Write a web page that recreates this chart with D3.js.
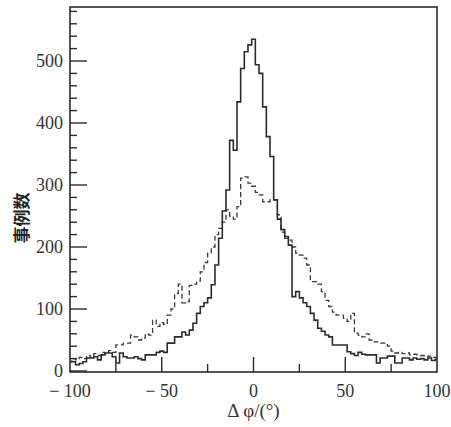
<!DOCTYPE html>
<html>
<head>
<meta charset="utf-8">
<script src="https://cdn.jsdelivr.net/npm/d3@7"></script>
<style>
  body { margin: 0; background: #fff; }
  .tick-label { font-family: "Liberation Serif", "DejaVu Serif", serif; font-size: 18px; fill: #333; }
</style>
</head>
<body>
<div id="histo"></div>
<script>

// bin centres in degrees, 2 deg wide bins
let binCenters = d3.range(-100, 101, 2);

// solid histogram (narrow peak)
let solidCounts = [
  15, 15, 10, 12, 15, 21, 21, 23, 18, 26,     // -100 .. -82
  29, 29, 23, 13, 29, 23, 21, 21, 23, 20,     // -80 .. -62
  18, 26, 26, 26, 30, 32, 30, 45, 45, 55,     // -60 .. -42
  55, 63, 58, 66, 77, 93, 104, 110, 118, 139, // -40 .. -22
  171, 214, 258, 292, 372, 356, 434, 488, 515, 526, // -20 .. -2
  535,                                        // 0
  494, 480, 426, 378, 346, 276, 245, 228, 217, 203, // 2 .. 20
  120, 128, 118, 110, 104, 93, 82, 69, 64, 58, // 22 .. 40
  55, 42, 42, 42, 42, 31, 28, 25, 30, 27,     // 42 .. 60
  26, 26, 26, 13, 21, 21, 24, 24, 13, 13,     // 62 .. 80
  21, 21, 18, 21, 19, 20, 18, 21, 17, 19      // 82 .. 100
];

// dashed histogram (broad peak)
let dashedCounts = [
  15, 20, 18, 22, 20, 25, 22, 28, 25, 30,     // -100 .. -82
  28, 33, 30, 42, 42, 45, 45, 58, 55, 50,     // -80 .. -62
  53, 60, 58, 82, 72, 78, 75, 90, 100, 125,   // -60 .. -42
  140, 110, 112, 138, 140, 145, 160, 175, 190, 200, // -40 .. -22
  220, 230, 240, 260, 250, 245, 265, 311, 313, 303, // -20 .. -2
  298,                                        // 0
  288, 284, 273, 273, 276, 276, 252, 224, 214, 211, // 2 .. 20
  200, 190, 187, 182, 171, 144, 144, 140, 128, 114, // 22 .. 40
  104, 95, 90, 90, 85, 80, 93, 61, 58, 55,    // 42 .. 60
  60, 50, 47, 47, 45, 45, 40, 32, 29, 30,     // 62 .. 80
  28, 29, 26, 27, 26, 25, 23, 24, 22, 22      // 82 .. 100
];

// axis ticks
let xMajorTicks = [-100, -50, 0, 50, 100];
let xMinorTicks = [-75, -25, 25, 75];
let xTickLabels = ["\u2212 100", "\u2212 50", "0", "50", "100"];
let yMajorTicks = [0, 100, 200, 300, 400, 500];
let yMinorTicks = d3.range(20, 590, 20).filter(d => d % 100 != 0);

let W = 451, H = 427;
let frame = {left: 70, right: 437, top: 7, bottom: 372};

let svg = d3.select("#histo")
    .append("svg")
    .attr("width", W)
    .attr("height", H);

// SCALES //
let x = d3.scaleLinear()
    .domain([-100, 100])
    .range([frame.left, frame.right]);

let y = d3.scaleLinear()
    .domain([0, 500])
    .range([371, 61]);

// clip so the edge bins stop at the frame
svg.append("clipPath")
    .attr("id", "plotclip")
    .append("rect")
    .attr("x", frame.left)
    .attr("y", frame.top)
    .attr("width", frame.right - frame.left)
    .attr("height", frame.bottom - frame.top);

// HISTOGRAMS //

// step outline through every bin
function stepPath(counts) {
    let p = d3.path();
    binCenters.forEach(function(c, i) {
        let x0 = x(c - 1), x1 = x(c + 1), yy = y(counts[i]);
        if (i == 0) p.moveTo(x0, yy); else p.lineTo(x0, yy);
        p.lineTo(x1, yy);
    });
    return p.toString();
}

svg.append("path")
    .attr("d", stepPath(dashedCounts))
    .attr("clip-path", "url(#plotclip)")
    .style("fill", "none")
    .style("stroke", "#3a3a3a")
    .style("stroke-width", 1.3)
    .style("stroke-dasharray", "5,3");

svg.append("path")
    .attr("d", stepPath(solidCounts))
    .attr("clip-path", "url(#plotclip)")
    .style("fill", "none")
    .style("stroke", "#2b2b2b")
    .style("stroke-width", 1.6);

// FRAME + TICKS //

svg.append("rect")
    .attr("x", frame.left)
    .attr("y", frame.top)
    .attr("width", frame.right - frame.left)
    .attr("height", frame.bottom - frame.top)
    .style("fill", "none")
    .style("stroke", "#2b2b2b")
    .style("stroke-width", 1.6);

// y ticks point into the plot
svg.append("g").selectAll("line")
    .data(yMajorTicks.map(d => [d, 17]).concat(yMinorTicks.map(d => [d, 7])))
    .enter()
    .append("line")
    .attr("x1", frame.left)
    .attr("x2", d => frame.left + d[1])
    .attr("y1", d => y(d[0]))
    .attr("y2", d => y(d[0]))
    .style("stroke", "#2b2b2b")
    .style("stroke-width", 1.4);

svg.append("g").selectAll("text")
    .data(yMajorTicks)
    .enter()
    .append("text")
    .attr("class", "tick-label")
    .attr("x", 63)
    .attr("y", d => y(d) + 6)
    .attr("text-anchor", "end")
    .text(d => d);

// x ticks point up
svg.append("g").selectAll("line")
    .data(xMajorTicks.slice(1, -1).map(d => [d, 15]).concat(xMinorTicks.map(d => [d, 8])))
    .enter()
    .append("line")
    .attr("x1", d => x(d[0]))
    .attr("x2", d => x(d[0]))
    .attr("y1", frame.bottom)
    .attr("y2", d => frame.bottom - d[1])
    .style("stroke", "#2b2b2b")
    .style("stroke-width", 1.4);

svg.append("g").selectAll("text")
    .data(xMajorTicks)
    .enter()
    .append("text")
    .attr("class", "tick-label")
    .attr("x", d => x(d))
    .attr("y", 397)
    .attr("text-anchor", "middle")
    .text((d, i) => xTickLabels[i]);

// AXIS TITLES //

svg.append("text")
    .attr("x", x(0))
    .attr("y", 417)
    .attr("text-anchor", "middle")
    .style("font-family", "'Liberation Serif', serif")
    .style("font-size", "19px")
    .style("fill", "#333")
    .text("\u0394 \u03C6/(\u00B0)");

svg.append("text")
    .attr("transform", "translate(28,218) rotate(-90)")
    .attr("text-anchor", "middle")
    .style("font-family", "'Noto Sans CJK SC'")
    .style("font-size", "17px")
    .style("font-weight", "bold")
    .style("fill", "#222")
    .text("事例数");

</script>
</body>
</html>
